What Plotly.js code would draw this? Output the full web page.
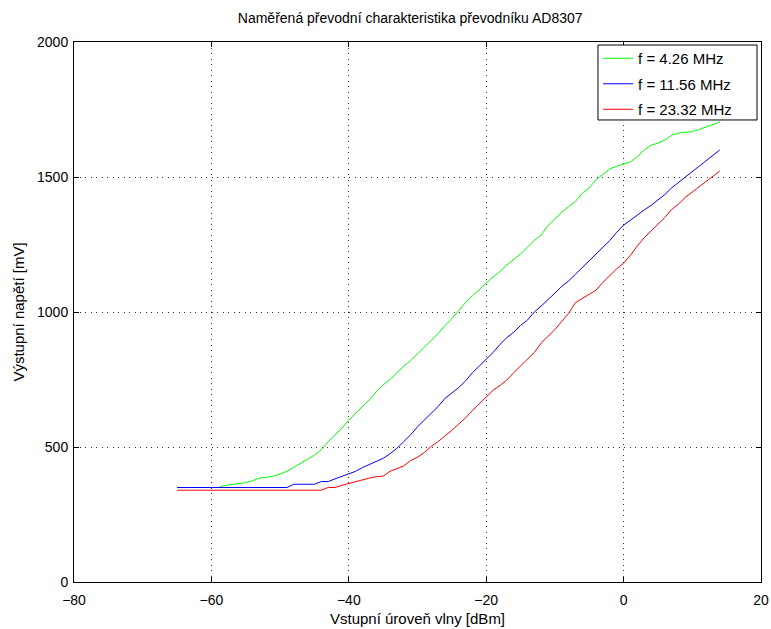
<!DOCTYPE html>
<html>
<head>
<meta charset="utf-8">
<script src="https://cdn.plot.ly/plotly-3.0.1.min.js"></script>
<style>html,body{margin:0;padding:0;background:#fff;}#chart{width:771px;height:629px;}</style>
</head>
<body>
<div id="chart"></div>
<script>
// Input level [dBm], 1 dB steps from -65 to 14
const inputLevel = [];
for (let v = -65; v <= 14; v++) inputLevel.push(v);

const green426 = [350,350,350,350,350,350,350,358,362,365,368,375,385,388,392,400,410,425,440,455,470,490,520,545,570,600,625,650,675,705,730,750,775,800,820,845,870,895,920,950,975,1005,1035,1060,1085,1107,1130,1150,1174,1195,1215,1240,1265,1285,1320,1345,1370,1390,1410,1440,1460,1490,1510,1530,1540,1547,1556,1575,1600,1618,1625,1637,1655,1663,1665,1668,1676,1685,1695,1704];

const blue1156 = [350,350,350,350,350,350,350,350,350,350,350,350,350,350,350,350,350,362,362,362,362,372,372,382,392,400,410,424,435,445,458,475,495,520,545,575,600,622,650,680,700,720,745,775,800,825,850,880,905,925,950,970,1000,1022,1045,1070,1095,1115,1140,1165,1190,1215,1240,1265,1295,1322,1340,1360,1378,1395,1415,1435,1460,1480,1500,1520,1540,1560,1580,1600];

const red2332 = [340,340,340,340,340,340,340,340,340,340,340,340,340,340,340,340,340,340,340,340,340,340,350,350,358,365,372,380,385,390,392,410,420,430,450,462,480,502,520,540,562,585,608,635,660,685,710,728,748,775,800,822,850,885,910,935,965,995,1035,1050,1065,1081,1110,1135,1160,1181,1210,1245,1275,1300,1325,1350,1380,1400,1425,1445,1463,1483,1503,1522];

const seriesNames = ['f = 4.26 MHz', 'f = 11.56 MHz', 'f = 23.32 MHz'];
const seriesColors = ['rgb(0,255,0)', 'rgb(0,0,255)', 'rgb(255,0,0)'];
const seriesData = [green426, blue1156, red2332];

const traces = seriesData.map((ys, i) => ({
  x: inputLevel, y: ys, type: 'scatter', mode: 'lines',
  name: seriesNames[i], legendgroup: 'g' + i,
  line: {color: seriesColors[i], width: 1}
}));

const font = {family: 'Liberation Sans, Arial, sans-serif', size: 14, color: '#000'};
const axisCommon = {
  showline: true, mirror: 'allticks', linecolor: '#000', linewidth: 1,
  ticks: 'inside', ticklen: 5, tickcolor: '#000',
  showgrid: true, gridcolor: '#333', griddash: '1px,4.5px', gridwidth: 1,
  zeroline: false, tickfont: font
};

const layout = {
  width: 771, height: 629,
  margin: {l: 74, r: 10, t: 42, b: 47},
  paper_bgcolor: '#fff', plot_bgcolor: '#fff',
  font: font,
  title: {text: 'Naměřená převodní charakteristika převodníku AD8307', font: font, x: 0.532, xanchor: 'center', y: 0.972, yanchor: 'middle'},
  xaxis: Object.assign({}, axisCommon, {range: [-80, 20], dtick: 20, tick0: -80, ticklabelstandoff: 5,
    title: {text: 'Vstupní úroveň vlny [dBm]', font: {family: font.family, size: 15, color: '#000'}, standoff: 6}}),
  yaxis: Object.assign({}, axisCommon, {range: [0, 2000], dtick: 500, ticklabelstandoff: 2,
    title: {text: 'Výstupní napětí [mV]', font: {family: font.family, size: 15, color: '#000'}, standoff: 8}}),
  legend: {x: 0.7628, xanchor: 'left', y: 1.0, yanchor: 'top',
    bgcolor: 'rgba(0,0,0,0)', borderwidth: 0,
    font: {family: font.family, size: 15, color: '#000'},
    tracegroupgap: 3, itemwidth: 30},
  shapes: [{
    type: 'rect', xref: 'paper', yref: 'paper', layer: 'above',
    x0: 0.7627, x1: 0.9942, y0: 0.8556, y1: 0.9944,
    fillcolor: '#fff', line: {color: '#000', width: 1}
  }],
  showlegend: true
};

Plotly.newPlot('chart', traces, layout, {displayModeBar: false, staticPlot: true});
</script>
</body>
</html>
